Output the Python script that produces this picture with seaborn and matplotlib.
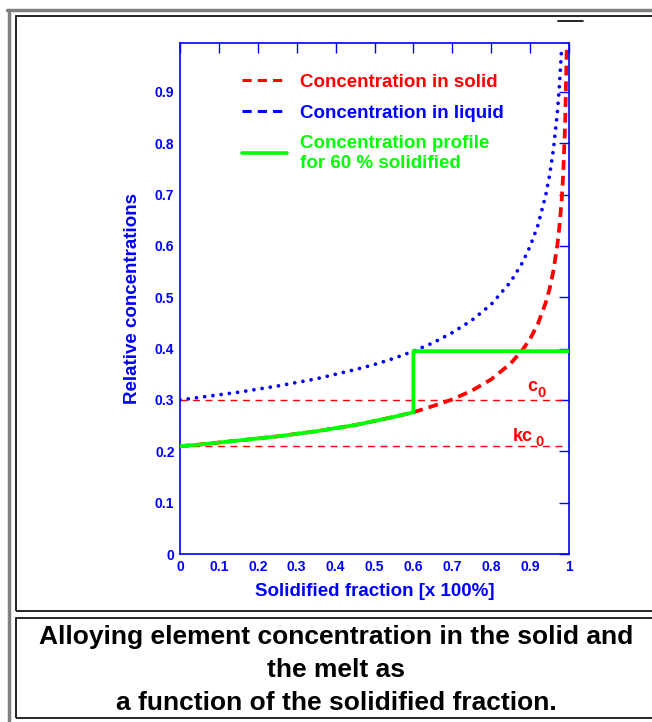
import numpy as np
import pandas as pd
import seaborn as sns
import matplotlib.pyplot as plt
from matplotlib.lines import Line2D
from matplotlib.patches import Rectangle

# Werte
fs = [0.0, 0.05, 0.1, 0.15, 0.2, 0.25, 0.3, 0.35, 0.4, 0.45, 0.5, 0.55, 0.6,
      0.65, 0.7, 0.75, 0.8, 0.85, 0.88, 0.9, 0.92, 0.94, 0.95, 0.96, 0.97,
      0.975, 0.98, 0.981, 0.985, 0.99, 0.995]
c_liquid = [0.300, 0.305, 0.310, 0.315, 0.321, 0.327, 0.334, 0.341, 0.350,
            0.359, 0.369, 0.381, 0.395, 0.411, 0.431, 0.455, 0.486, 0.530,
            0.567, 0.599, 0.640, 0.698, 0.737, 0.788, 0.859, 0.908, 0.970,
            0.990, None, None, None]
c_solid = [0.210, 0.213, 0.217, 0.221, 0.225, 0.229, 0.234, 0.239, 0.245,
           0.251, 0.259, 0.267, 0.276, 0.288, 0.301, 0.318, 0.340, 0.371,
           0.397, 0.419, 0.448, 0.489, 0.516, 0.552, 0.601, 0.635, 0.679,
           0.686, 0.740, 0.836, 1.01]
c0 = 0.30
kc0 = 0.21
fs_profile = 0.6
y_ticks = [0.0, 0.1, 0.2, 0.3, 0.4, 0.5, 0.6, 0.7, 0.8, 0.9]
y_ticklabels = ['0', '0.1', '0.2', '0.3', '0.4', '0.5', '0.6', '0.7', '0.8', '0.9']
x_ticks = [0.0, 0.1, 0.2, 0.3, 0.4, 0.5, 0.6, 0.7, 0.8, 0.9, 1.0]
x_ticklabels = ['0', '0.1', '0.2', '0.3', '0.4', '0.5', '0.6', '0.7', '0.8', '0.9', '1']

df = pd.DataFrame({'fs': fs, 'liquid': c_liquid, 'solid': c_solid})
n60 = fs.index(fs_profile)
profil = pd.DataFrame({
    'fs': fs[:n60 + 1] + [fs_profile, 1.0],
    'c': c_solid[:n60 + 1] + [c_liquid[n60], c_liquid[n60]],
})

sns.set_style('white')
plt.rcParams['font.family'] = ['Liberation Sans', 'DejaVu Sans']
plt.rcParams['font.weight'] = 'bold'

blau = '#0000ff'
rot = '#ff0000'
gruen = '#00ff00'

fig = plt.figure(figsize=(6.52, 7.22), dpi=100)
ax = fig.add_axes([180 / 652, 168 / 722, 389 / 652, 511 / 722])

# Hilfslinien c0 und kc0
ax.axhline(c0, color=rot, lw=1.0, ls=(0, (5, 4)), zorder=1)
ax.axhline(kc0, color=rot, lw=1.0, ls=(0, (5, 4)), zorder=1)

sns.lineplot(data=df, x='fs', y='solid', ax=ax, color=rot, lw=2.7,
             linestyle=(0, (2.6, 1.6)), zorder=2)
sns.lineplot(data=df.dropna(), x='fs', y='liquid', ax=ax, color=blau, lw=2.7,
             linestyle=(0, (0.01, 2.2)), dash_capstyle='round', zorder=3)
sns.lineplot(data=profil, x='fs', y='c', ax=ax, color=gruen, lw=2.7,
             estimator=None, sort=False, zorder=4)

ax.set_xlim(0, 1)
ax.set_ylim(0, 0.995)
ax.set_xticks(x_ticks)
ax.set_xticklabels(x_ticklabels)
ax.set_yticks(y_ticks)
ax.set_yticklabels(y_ticklabels)
ax.tick_params(direction='in', length=7, width=1, color=blau, labelcolor=blau,
               labelsize=10, top=True, right=True, pad=4)
for s in ax.spines.values():
    s.set_color(blau)
    s.set_linewidth(1.2)

ax.set_xlabel('Solidified fraction [x 100%]', color=blau, fontsize=13.5,
              fontweight='bold', labelpad=7)
ax.set_ylabel('Relative concentrations', color=blau, fontsize=13.5,
              fontweight='bold', labelpad=10)

# c0 / kc0 Beschriftung
ax.text(0.893, 0.317, 'c', color=rot, fontsize=13, fontweight='bold', va='baseline')
ax.text(0.918, 0.306, '0', color=rot, fontsize=10.5, fontweight='bold', va='baseline')
ax.text(0.856, 0.221, 'kc', color=rot, fontsize=13, fontweight='bold', va='baseline')
ax.text(0.913, 0.210, '0', color=rot, fontsize=10.5, fontweight='bold', va='baseline')

handles = [
    Line2D([], [], color=rot, lw=2.2, ls=(0, (3, 2))),
    Line2D([], [], color=blau, lw=2.2, ls=(0, (3, 2))),
    Line2D([], [], color=gruen, lw=2.6),
]
labels = ['Concentration in solid', 'Concentration in liquid',
          'Concentration profile\nfor 60 % solidified']
leg = ax.legend(handles, labels, loc='upper left', bbox_to_anchor=(0.135, 0.958),
                frameon=False, fontsize=13.5, handlelength=2.4,
                handletextpad=0.7, labelspacing=0.72, borderpad=0)
for t, c in zip(leg.get_texts(), [rot, blau, gruen]):
    t.set_color(c)
    t.set_fontweight('bold')

# Rahmen
H = 722.0
W = 652.0
fig.add_artist(Line2D([7 / W, 1], [1 - 9.5 / H, 1 - 9.5 / H], color='#808080', lw=2.5,
                      transform=fig.transFigure))
fig.add_artist(Line2D([8.5 / W, 8.5 / W], [0, 1 - 9.5 / H], color='#808080', lw=2.5,
                      transform=fig.transFigure))
fig.add_artist(Rectangle((16 / W, 1 - 610.5 / H), 1.0, (610.5 - 16) / H, fill=False,
                         ec='black', lw=1.2, transform=fig.transFigure))
fig.add_artist(Rectangle((16 / W, 1 - 718 / H), 1.0, (718 - 618) / H, fill=False,
                         ec='black', lw=1.2, transform=fig.transFigure))
fig.add_artist(Line2D([558 / W, 583 / W], [1 - 21 / H, 1 - 21 / H], color='black', lw=1.2,
                      transform=fig.transFigure))

caption = ['Alloying element concentration in the solid and', 'the melt as',
           'a function of the solidified fraction.']
for i, line in enumerate(caption):
    fig.text(336 / W, 1 - (637 + 33 * i) / H, line, ha='center', va='center',
             fontsize=19, fontweight='bold', color='black')

fig.savefig('out.png', dpi=100)
